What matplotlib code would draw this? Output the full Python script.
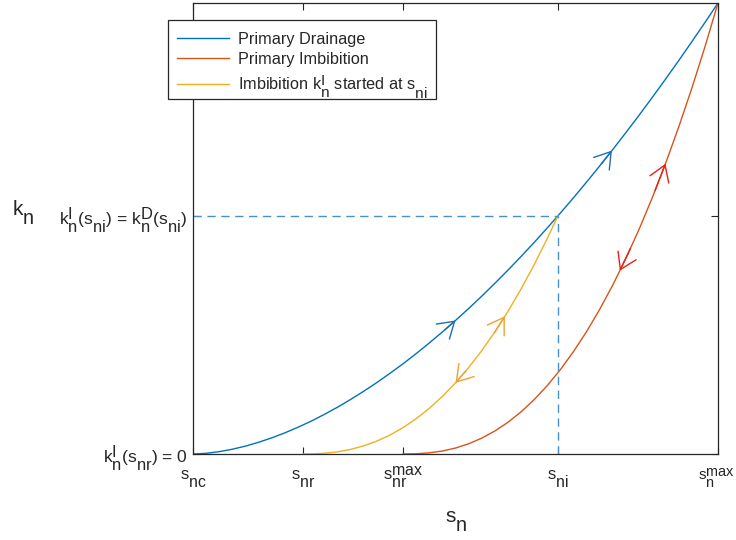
import numpy as np
import matplotlib
matplotlib.use("Agg")
import matplotlib.pyplot as plt
import matplotlib._mathtext as _mt
from matplotlib.patches import Rectangle

# MATLAB-like tex rendering: large, low subscripts
_mt.SHRINK_FACTOR = 0.95
_mt.FontConstantsBase.sub1 = 0.9
_mt.FontConstantsBase.sub2 = 0.9
_mt.FontConstantsBase.sup1 = 0.5

plt.rcParams['font.family'] = ['Liberation Sans', 'DejaVu Sans']
plt.rcParams['mathtext.fontset'] = 'custom'
plt.rcParams['mathtext.rm'] = 'Liberation Sans'
plt.rcParams['mathtext.it'] = 'Liberation Sans'
plt.rcParams['mathtext.bf'] = 'Liberation Sans:bold'
plt.rcParams['mathtext.default'] = 'regular'

# ---- data (x: s_n normalised, y: k_n normalised) ----
drain_x = [0.000, 0.025, 0.050, 0.075, 0.100, 0.125, 0.150, 0.175, 0.200, 0.225,
           0.250, 0.275, 0.300, 0.325, 0.350, 0.375, 0.400, 0.425, 0.450, 0.475,
           0.500, 0.525, 0.550, 0.575, 0.600, 0.625, 0.650, 0.675, 0.700, 0.725,
           0.750, 0.775, 0.800, 0.825, 0.850, 0.875, 0.900, 0.925, 0.950, 0.975, 1.000]
drain_y = [0.0000, 0.0015, 0.0052, 0.0106, 0.0175, 0.0260, 0.0358, 0.0469, 0.0593, 0.0728,
           0.0877, 0.1036, 0.1208, 0.1390, 0.1583, 0.1787, 0.2000, 0.2225, 0.2461, 0.2706,
           0.2961, 0.3225, 0.3500, 0.3784, 0.4078, 0.4381, 0.4693, 0.5015, 0.5346, 0.5685,
           0.6034, 0.6392, 0.6758, 0.7133, 0.7517, 0.7910, 0.8311, 0.8720, 0.9139, 0.9565, 1.0000]

imb_x = [0.400, 0.425, 0.450, 0.475, 0.500, 0.525, 0.550, 0.575, 0.600, 0.625,
         0.650, 0.675, 0.700, 0.725, 0.750, 0.775, 0.800, 0.825, 0.850, 0.875,
         0.900, 0.925, 0.950, 0.975, 1.000]
imb_y = [0.0000, 0.0005, 0.0025, 0.0066, 0.0132, 0.0226, 0.0352, 0.0510, 0.0704, 0.0936,
         0.1207, 0.1520, 0.1875, 0.2275, 0.2720, 0.3214, 0.3756, 0.4349, 0.4991, 0.5688,
         0.6438, 0.7244, 0.8105, 0.9023, 1.0000]

scan_x = [0.210, 0.225, 0.250, 0.275, 0.300, 0.325, 0.350, 0.375, 0.400, 0.425,
          0.450, 0.475, 0.500, 0.525, 0.550, 0.575, 0.600, 0.625, 0.650, 0.675, 0.695]
scan_y = [0.0000, 0.0002, 0.0015, 0.0047, 0.0101, 0.0180, 0.0285, 0.0419, 0.0584, 0.0781,
          0.1011, 0.1276, 0.1577, 0.1915, 0.2291, 0.2708, 0.3163, 0.3661, 0.4200, 0.4783, 0.5280]

s_ni = 0.695
k_ni = 0.528

xtick_vals = [0.0, 0.21, 0.40, 0.695, 1.0]
xtick_labels = ['$s_{nc}$', '$s_{nr}$', '$s_{nr}^{max}$', '$s_{ni}$', '$s_{n}^{max}$']
ytick_vals = [0.0, 0.528]
ytick_labels = ['$k_n^I(s_{nr})$ = 0', '$k_n^I(s_{ni})$ = $k_n^D(s_{ni})$']

legend_labels = ['Primary Drainage', 'Primary Imbibition', 'Imbibition $k_n^I$ started at $s_{ni}$']

# arrow tips: (curve, x of tip, direction +1 up / -1 down)
arrows = [('drain', 0.50, 1), ('drain', 0.798, 1),
          ('scan', 0.594, 1), ('scan', 0.50, -1),
          ('imb', 0.90, 1), ('imb', 0.813, -1)]

c_blue = '#0072BD'
c_red = '#D95319'
c_yel = '#EDB120'
arrow_col = {'drain': '#1f6fb0', 'scan': '#F0A030', 'imb': '#E8201A'}
curves = {'drain': (drain_x, drain_y), 'scan': (scan_x, scan_y), 'imb': (imb_x, imb_y)}
txt_col = '#262626'

fig = plt.figure(figsize=(7.36, 5.40), dpi=100)
ax = fig.add_axes([193/736, 1-454/540, 525/736, 451/540])

l1, = ax.plot(drain_x, drain_y, color=c_blue, lw=1.0)
l2, = ax.plot(imb_x, imb_y, color=c_red, lw=1.0)
l3, = ax.plot(scan_x, scan_y, color=c_yel, lw=1.0)

ax.plot([0, s_ni], [k_ni, k_ni], color='#4a90c8', lw=1.0, ls=(0, (6, 4)))
ax.plot([s_ni, s_ni], [0, k_ni], color='#4a90c8', lw=1.0, ls=(0, (6, 4)))

for name, xt, d in arrows:
    cx, cy = curves[name]
    yt = np.interp(xt, cx, cy)
    xb = xt - d * 0.02
    yb = np.interp(xb, cx, cy)
    ax.annotate('', xy=(xt, yt), xytext=(xb, yb),
                arrowprops=dict(arrowstyle='->,head_length=0.7,head_width=0.45',
                                color=arrow_col[name], lw=1.0, shrinkA=0, shrinkB=0,
                                mutation_scale=16))

ax.set_xlim(0, 1)
ax.set_ylim(0, 1)
ax.set_xticks(xtick_vals)
ax.set_xticklabels(xtick_labels, fontsize=12, color=txt_col)
ax.set_yticks(ytick_vals)
ax.set_yticklabels(ytick_labels, fontsize=12.5, color=txt_col)
ax.tick_params(direction='in', length=5, width=0.8, top=True, right=True, colors=txt_col)
ax.tick_params(axis='x', pad=19)
for lab in ax.get_xticklabels():
    lab.set_verticalalignment('baseline')
ax.get_xticklabels()[-1].set_fontsize(11)
ax.get_xticklabels()[-1].set_horizontalalignment('right')
ax.tick_params(axis='y', pad=4)
for sp in ax.spines.values():
    sp.set_color(txt_col)
    sp.set_linewidth(0.9)
# keep the last x tick label inside the canvas
import matplotlib.transforms as mtrans
_lab = ax.get_xticklabels()[-1]
_lab.set_transform(_lab.get_transform() + mtrans.ScaledTranslation(17/100, 0, fig.dpi_scale_trans))

fig.text(12/736, 1-215/540, '$k_n$', fontsize=15, ha='left', va='baseline', color=txt_col)
fig.text(445/736, 1-522/540, '$s_n$', fontsize=15, ha='left', va='baseline', color=txt_col)

leg = fig.legend([l1, l2, l3], legend_labels, loc='upper left',
                 bbox_to_anchor=(168/736, 1-23/540), fontsize=11.7, frameon=False,
                 handlelength=3.2, borderpad=0.55, labelspacing=0.3,
                 handletextpad=0.55, borderaxespad=0)
for t in leg.get_texts():
    t.set_color(txt_col)
fig.patches.append(Rectangle((168/736, 1-99/540), (436-168)/736, (99-20)/540,
                             transform=fig.transFigure, fill=True, facecolor='white',
                             edgecolor=txt_col, lw=0.9, zorder=4))
leg.set_zorder(5)

fig.savefig('out.png', dpi=100)
